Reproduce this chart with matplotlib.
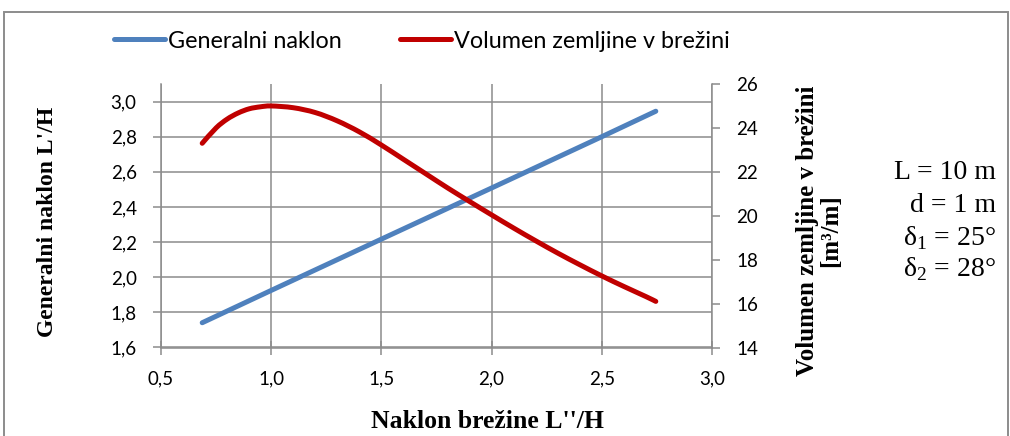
import matplotlib
matplotlib.use("Agg")
import matplotlib.pyplot as plt
from matplotlib.patches import Rectangle, PathPatch
from matplotlib.path import Path
from matplotlib.lines import Line2D
from matplotlib.ticker import FuncFormatter

# naklon brezine L''/H
x_gen = [0.687, 1.0, 1.5, 2.0, 2.5, 2.745]
gen_naklon = [1.741, 1.925, 2.217, 2.508, 2.800, 2.945]

x_vol = [0.687, 0.75, 0.8, 0.85, 0.9, 0.95, 1.0, 1.1, 1.2, 1.3, 1.4, 1.5,
         1.6, 1.7, 1.8, 1.9, 2.0, 2.1, 2.2, 2.3, 2.4, 2.5, 2.6, 2.7, 2.745]
volumen = [23.30, 24.00, 24.40, 24.68, 24.87, 24.96, 25.00, 24.92, 24.70, 24.32,
           23.82, 23.22, 22.57, 21.92, 21.27, 20.65, 20.04, 19.44, 18.86, 18.30,
           17.77, 17.26, 16.78, 16.32, 16.10]

x_ticks = [0.5, 1.0, 1.5, 2.0, 2.5, 3.0]
left_ticks = [1.6, 1.8, 2.0, 2.2, 2.4, 2.6, 2.8, 3.0]
right_ticks = [14, 16, 18, 20, 22, 24, 26]

params = ["L = 10 m", "d = 1 m", "δ$_1$ = 25°", "δ$_2$ = 28°"]

BLUE = "#4F81BD"
RED = "#C00000"
GRID = "#8C8C8C"
TICKFONT = "Lato"
SERIF = "Liberation Serif"

plt.rcParams["mathtext.fontset"] = "custom"
plt.rcParams["mathtext.rm"] = SERIF


def smooth_path(xs, ys):
    # excel-like smoothed line: cubic bezier through every point
    pts = list(zip(xs, ys))
    verts = [pts[0]]
    codes = [Path.MOVETO]
    n = len(pts)
    for i in range(n - 1):
        p0 = pts[max(i - 1, 0)]
        p1 = pts[i]
        p2 = pts[i + 1]
        p3 = pts[min(i + 2, n - 1)]
        c1 = (p1[0] + (p2[0] - p0[0]) / 6, p1[1] + (p2[1] - p0[1]) / 6)
        c2 = (p2[0] - (p3[0] - p1[0]) / 6, p2[1] - (p3[1] - p1[1]) / 6)
        verts += [c1, c2, p2]
        codes += [Path.CURVE4] * 3
    return Path(verts, codes)


fig = plt.figure(figsize=(10.1, 4.36), dpi=100)
ax = fig.add_axes([161 / 1010, 1 - 347.5 / 436, 551 / 1010, 263.5 / 436])
ax2 = ax.twinx()

comma = FuncFormatter(lambda v, p: f"{v:.1f}".replace(".", ","))

ax.plot(x_gen, gen_naklon, color=BLUE, lw=3.6, solid_capstyle="round")
ax2.add_patch(PathPatch(smooth_path(x_vol, volumen), fill=False, edgecolor=RED,
                        lw=3.6, capstyle="round", joinstyle="round"))

ax.set_xlim(0.5, 3.0)
ax.set_ylim(1.6, 3.1)
ax2.set_ylim(14, 26)
ax.set_xticks(x_ticks)
ax.set_yticks(left_ticks)
ax2.set_yticks(right_ticks)
ax.xaxis.set_major_formatter(comma)
ax.yaxis.set_major_formatter(comma)

ax.grid(True, color=GRID, lw=1.1)
ax.set_axisbelow(True)
for a in (ax, ax2):
    a.spines["top"].set_visible(False)
    for s in ("left", "right", "bottom"):
        a.spines[s].set_color(GRID)
        a.spines[s].set_linewidth(1.1)
ax.spines["right"].set_visible(False)
ax2.spines["left"].set_visible(False)
ax2.spines["bottom"].set_visible(False)

ax.tick_params(axis="x", direction="inout", length=9.5, width=1.1, color=GRID,
               pad=12, labelsize=13.5)
ax.tick_params(axis="y", direction="out", length=6, width=1.1, color=GRID,
               pad=11.5, labelsize=13.5)
ax2.tick_params(axis="y", direction="out", length=6, width=1.1, color=GRID,
                pad=11.5, labelsize=13.5)
for lab in ax.get_xticklabels() + ax.get_yticklabels() + ax2.get_yticklabels():
    lab.set_fontfamily(TICKFONT)

fig.text(48 / 1010, 1 - 222 / 436, "Generalni naklon L'/H", rotation=90,
         ha="center", va="center", family=SERIF, weight="bold", fontsize=17)
fig.text(487 / 1010, 1 - 421 / 436, "Naklon brežine L''/H",
         ha="center", va="center", family=SERIF, weight="bold", fontsize=18.5)
fig.text(819 / 1010, 1 - 231 / 436, "Volumen zemljine v brežini\n[m³/m]",
         rotation=90, ha="center", va="center", multialignment="center",
         family=SERIF, weight="bold", fontsize=18, linespacing=1.0)

baselines = [179, 212.5, 245, 276]
for t, yb in zip(params, baselines):
    fig.text(996 / 1010, 1 - yb / 436, t, ha="right", va="baseline",
             family=SERIF, fontsize=20)

handles = [Line2D([], [], color=BLUE, lw=3.6, solid_capstyle="round"),
           Line2D([], [], color=RED, lw=3.6, solid_capstyle="round")]
fig.legend(handles, ["Generalni naklon", "Volumen zemljine v brežini"],
           loc="center", bbox_to_anchor=(422 / 1010, 1 - 41 / 436),
           ncol=2, frameon=False, handlelength=2.2, handletextpad=0.12,
           columnspacing=2.5, prop={"family": TICKFONT, "size": 16.8})

fig.patches.append(Rectangle((4 / 1010, -0.1), 1004 / 1010, 1.1 - 12 / 436,
                             transform=fig.transFigure, fill=False,
                             edgecolor=GRID, lw=1.4))

fig.savefig("out.png", dpi=100)
